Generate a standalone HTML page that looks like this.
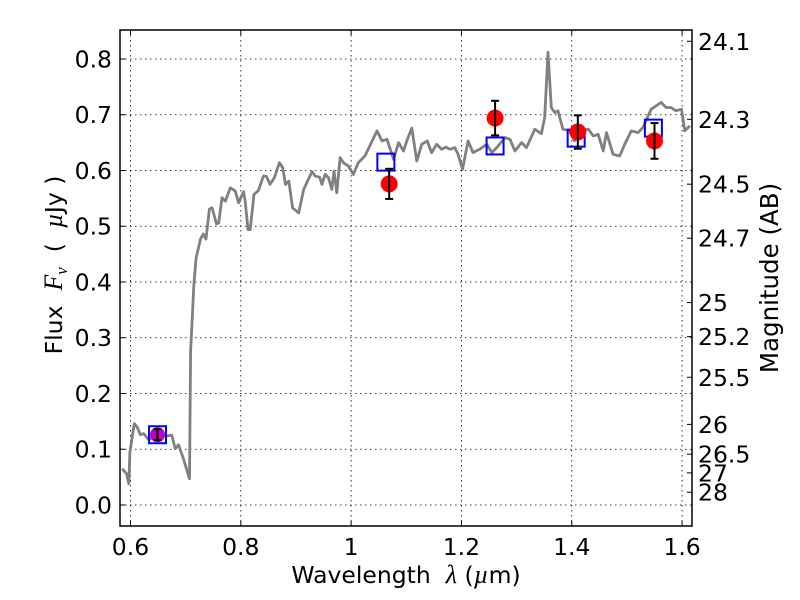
<!DOCTYPE html>
<html><head><meta charset="utf-8"><style>
html,body{margin:0;padding:0;background:#fff;}
svg{display:block;font-family:"DejaVu Sans","Liberation Sans",sans-serif;}
</style></head><body>
<svg id="chart" width="800" height="600" viewBox="0 0 800 600" xmlns="http://www.w3.org/2000/svg">
<rect x="0" y="0" width="800" height="600" fill="#fff"/>
<g id="grid"></g>
<g id="series"></g>
<g id="axes"></g>
<text x="406" y="583" text-anchor="middle" font-size="23.5" xml:space="preserve">Wavelength  <tspan font-style="italic" font-family="Liberation Serif, serif" font-size="26">λ</tspan> (<tspan font-style="italic" font-family="Liberation Serif, serif" font-size="26">µ</tspan>m)</text>
<text transform="translate(62,265) rotate(-90)" text-anchor="middle" font-size="23.5" xml:space="preserve">Flux  <tspan font-style="italic" font-family="Liberation Serif, serif" font-size="26">F</tspan><tspan font-style="italic" font-family="Liberation Serif, serif" font-size="17" dy="5">ν</tspan><tspan dy="-5">  (  </tspan><tspan font-style="italic" font-family="Liberation Serif, serif" font-size="26">µ</tspan>Jy )</text>
<text transform="translate(778,278) rotate(-90)" text-anchor="middle" font-size="24.5">Magnitude (AB)</text>
</svg>
<script>
const specWave = [0.585,0.593,0.597,0.599,0.607,0.612,0.618,0.624,0.633,0.649,0.666,0.675,0.681,0.687,0.696,0.707,0.709,0.715,0.719,0.727,0.732,0.737,0.743,0.748,0.756,0.760,0.766,0.772,0.781,0.790,0.796,0.805,0.808,0.813,0.817,0.824,0.832,0.841,0.846,0.853,0.861,0.870,0.876,0.881,0.887,0.894,0.905,0.914,0.929,0.935,0.943,0.947,0.953,0.959,0.965,0.969,0.974,0.980,0.986,0.995,1.004,1.013,1.025,1.047,1.056,1.065,1.077,1.086,1.095,1.101,1.110,1.119,1.128,1.138,1.146,1.155,1.164,1.172,1.179,1.188,1.194,1.202,1.212,1.221,1.233,1.246,1.255,1.264,1.279,1.288,1.297,1.309,1.318,1.333,1.345,1.351,1.357,1.363,1.369,1.375,1.384,1.396,1.405,1.414,1.430,1.439,1.448,1.457,1.463,1.475,1.487,1.496,1.508,1.520,1.529,1.544,1.562,1.571,1.580,1.589,1.599,1.605,1.614];
const specFlux = [0.065,0.056,0.038,0.095,0.146,0.140,0.126,0.128,0.117,0.126,0.124,0.125,0.101,0.108,0.083,0.047,0.275,0.396,0.443,0.477,0.486,0.477,0.531,0.533,0.504,0.506,0.551,0.545,0.569,0.563,0.542,0.562,0.545,0.494,0.494,0.557,0.564,0.590,0.590,0.575,0.587,0.614,0.605,0.575,0.581,0.533,0.524,0.566,0.598,0.590,0.588,0.575,0.593,0.587,0.566,0.599,0.560,0.623,0.614,0.608,0.593,0.614,0.626,0.671,0.653,0.656,0.620,0.650,0.635,0.653,0.676,0.617,0.647,0.653,0.632,0.647,0.638,0.642,0.638,0.641,0.629,0.602,0.653,0.632,0.638,0.647,0.632,0.641,0.659,0.656,0.635,0.650,0.641,0.674,0.666,0.695,0.812,0.713,0.704,0.707,0.674,0.671,0.653,0.671,0.674,0.662,0.665,0.635,0.668,0.629,0.626,0.647,0.671,0.668,0.677,0.710,0.722,0.713,0.713,0.707,0.710,0.671,0.680];
const photWave = [1.069,1.261,1.411,1.550];
const photFlux = [0.576,0.694,0.669,0.653];
const photErr = [0.027,0.031,0.030,0.032];
const magWave = [0.649];
const magFlux = [0.126];
const magErr = [0.010];
const modelWave = [0.649,1.063,1.261,1.408,1.548];
const modelFlux = [0.126,0.615,0.644,0.658,0.676];
const xTicks = [0.6,0.8,1.0,1.2,1.4,1.6];
const xTickLabels = ["0.6","0.8","1","1.2","1.4","1.6"];
const yTicks = [0.0,0.1,0.2,0.3,0.4,0.5,0.6,0.7,0.8];
const yTickLabels = ["0.0","0.1","0.2","0.3","0.4","0.5","0.6","0.7","0.8"];
const magTicks = [24.1,24.3,24.5,24.7,25,25.2,25.5,26,26.5,27,28];
const magTickLabels = ["24.1","24.3","24.5","24.7","25","25.2","25.5","26","26.5","27","28"];

const L=120,R=692,T=30,B=526;
const X0=0.581,X1=1.618,Y0=-0.0377,Y1=0.852;
function sx(v){return L+(v-X0)/(X1-X0)*(R-L);}
function sy(v){return B-(v-Y0)/(Y1-Y0)*(B-T);}
function magToFlux(m){return Math.pow(10,(23.9-m)/2.5);}
const NS="http://www.w3.org/2000/svg";
function mk(tag,attrs,parent){const e=document.createElementNS(NS,tag);for(const k in attrs)e.setAttribute(k,attrs[k]);parent.appendChild(e);return e;}
const grid=document.getElementById('grid'),series=document.getElementById('series'),axes=document.getElementById('axes');

xTicks.forEach((v,i)=>{
  const x=sx(v);
  const g=mk('line',{x1:x,x2:x,y1:T,y2:B,stroke:'#000','stroke-width':0.8,'stroke-dasharray':'1.5,3.5'},grid);
  
  
  const t1=mk('line',{x1:x,x2:x,y1:B,y2:B-5,stroke:'#000','stroke-width':1},axes);
  
  
  const t2=mk('line',{x1:x,x2:x,y1:T,y2:T+5,stroke:'#000','stroke-width':1},axes);
  
  
  const lb=mk('text',{x:x,y:555,'text-anchor':'middle','font-size':23.5},axes);
  lb.textContent=xTickLabels[i];
  
  
});
yTicks.forEach((v,i)=>{
  const y=sy(v);
  const g=mk('line',{x1:L,x2:R,y1:y,y2:y,stroke:'#000','stroke-width':0.8,'stroke-dasharray':'1.5,3.5'},grid);
  
  
  const t=mk('line',{x1:L,x2:L+5,y1:y,y2:y,stroke:'#000','stroke-width':1},axes);
  
  
  const lb=mk('text',{x:112,y:y+8.5,'text-anchor':'end','font-size':23.5},axes);
  lb.textContent=yTickLabels[i];
  
  
});
magTicks.forEach((m,i)=>{
  const y=sy(magToFlux(m));
  const t=mk('line',{x1:R,x2:R-5,y1:y,y2:y,stroke:'#000','stroke-width':1},axes);
  
  
  const lb=mk('text',{x:698,y:y+8.5,'text-anchor':'start','font-size':23.5},axes);
  lb.textContent=magTickLabels[i];
  
  
});

const d=specWave.map((w,i)=>(i?'L':'M')+sx(w).toFixed(1)+','+sy(specFlux[i]).toFixed(1)).join(' ');
const sp=mk('path',{d:d,fill:'none',stroke:'#808080','stroke-width':2.8,'stroke-linejoin':'round'},series);



modelWave.forEach((w,i)=>{
  const x=sx(w),y=sy(modelFlux[i]);
  const r=mk('rect',{x:x-8.5,y:y-8.5,width:17,height:17,fill:'none',stroke:'#0000ff','stroke-width':2},series);
  
  
});
function errbar(x,f,e,name){
  const y1=sy(f+e),y2=sy(f-e);
  const g=mk('g',{},series);
  
  
  mk('line',{x1:x,x2:x,y1:y1,y2:y2,stroke:'#000','stroke-width':2},g);
  mk('line',{x1:x-4,x2:x+4,y1:y1,y2:y1,stroke:'#000','stroke-width':2},g);
  mk('line',{x1:x-4,x2:x+4,y1:y2,y2:y2,stroke:'#000','stroke-width':2},g);
}
photWave.forEach((w,i)=>{
  const x=sx(w),y=sy(photFlux[i]);
  const c=mk('circle',{cx:x,cy:y,r:8.5,fill:'#ff0000'},series);
  
  
  errbar(x,photFlux[i],photErr[i],'observed-error-bar');
});
magWave.forEach((w,i)=>{
  const x=sx(w),y=sy(magFlux[i]);
  const c=mk('circle',{cx:x,cy:y,r:7.5,fill:'#bf00bf'},series);
  
  
  errbar(x,magFlux[i],magErr[i],'optical-error-bar');
});
const fr=mk('rect',{x:L,y:T,width:R-L,height:B-T,fill:'none',stroke:'#000','stroke-width':1.5},axes);


</script>
</body></html>
